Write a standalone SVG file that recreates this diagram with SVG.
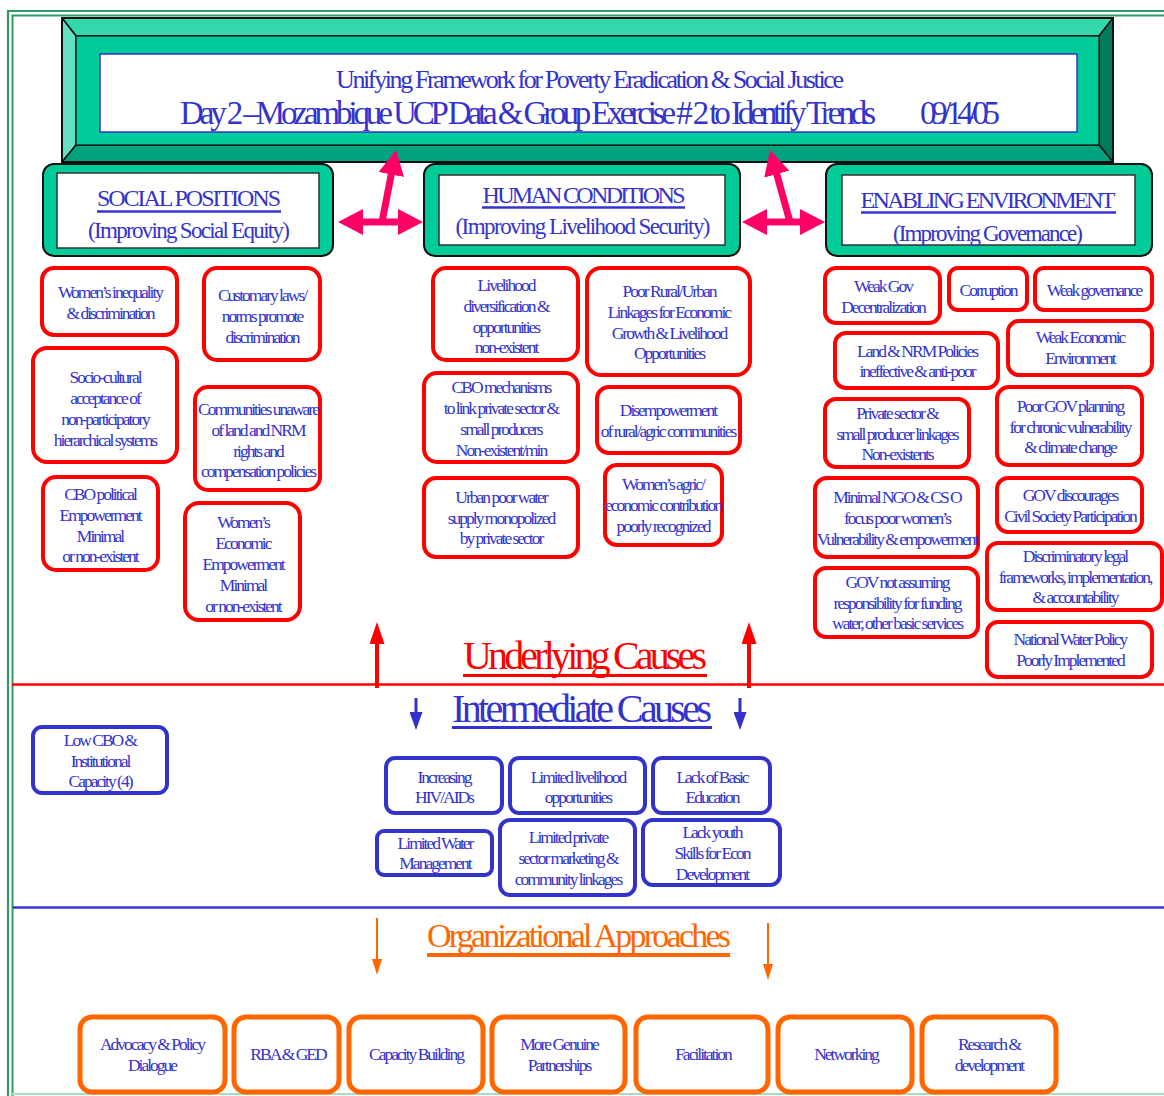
<svg xmlns="http://www.w3.org/2000/svg" width="1164" height="1096" viewBox="0 0 1164 1096">
  <defs>
    <style>
      .serif { font-family: "Liberation Serif", "Times New Roman", serif; }
      .t { font-family: "Liberation Serif", "Times New Roman", serif; font-size: 17.5px; letter-spacing: -2px; fill: #3333cc; text-anchor: middle; }
      .cause { fill: #ffffff; stroke: #ff0000; stroke-width: 4; }
      .mid { fill: #ffffff; stroke: #3333cc; stroke-width: 4; }
      .appr { fill: #ffffff; stroke: #ff6600; stroke-width: 5; }
      .cat { fill: #00cc99; stroke: #111111; stroke-width: 2; }
      .catin { fill: #ffffff; stroke: #333333; stroke-width: 1.5; }
      .head { font-family: "Liberation Serif", "Times New Roman", serif; fill: #3333cc; text-anchor: middle; }
      .pink { stroke: #ff0066; stroke-width: 7; fill: none; }
      .bevel { stroke: #111111; stroke-width: 1.5; stroke-linejoin: round; }
    </style>
    <marker id="pinkHead" markerUnits="userSpaceOnUse" markerWidth="25" markerHeight="26" refX="5" refY="13" orient="auto-start-reverse" viewBox="0 0 25 26">
      <path d="M0,0 L25,13 L0,26 z" fill="#ff0066"/>
    </marker>
    <marker id="redHead" markerUnits="userSpaceOnUse" markerWidth="22" markerHeight="15" refX="4" refY="7.5" orient="auto" viewBox="0 0 22 15">
      <path d="M0,0 L22,7.5 L0,15 z" fill="#ff0000"/>
    </marker>
    <marker id="blueHead" markerUnits="userSpaceOnUse" markerWidth="18" markerHeight="13" refX="4" refY="6.5" orient="auto" viewBox="0 0 18 13">
      <path d="M0,0 L18,6.5 L0,13 z" fill="#3333cc"/>
    </marker>
    <marker id="orangeHead" markerUnits="userSpaceOnUse" markerWidth="16" markerHeight="10" refX="2" refY="5" orient="auto" viewBox="0 0 16 10">
      <path d="M0,0 L16,5 L0,10 z" fill="#ff6600"/>
    </marker>
  </defs>

  <rect x="0" y="0" width="1164" height="1096" fill="#ffffff"/>

  <!-- page frame: double green rule on top and left, light rule at the bottom -->
  <g id="frame" fill="none">
    <path d="M8,1096 V11 H1164" stroke="#339966" stroke-width="2.2"/>
    <path d="M12.5,1096 V15.5 H1164" stroke="#339966" stroke-width="2"/>
    <line x1="12" y1="1094" x2="1164" y2="1094" stroke="#a8dcc0" stroke-width="2"/>
  </g>

  <!-- title banner -->
  <g id="banner">
    <rect x="62" y="18" width="1051" height="144" fill="#00cc99"/>
    <polygon class="bevel" points="62,18 1113,18 1099,36 76,36" fill="#33d9ad"/>
    <polygon class="bevel" points="62,18 76,36 76,145 62,162" fill="#66e0c2"/>
    <polygon class="bevel" points="1113,18 1113,162 1099,145 1099,36" fill="#007a5c"/>
    <polygon class="bevel" points="62,162 76,145 1099,145 1113,162" fill="#00a37d"/>
    <rect x="76" y="36" width="1023" height="109" fill="#00cc99" stroke="#111111" stroke-width="1.2"/>
    <rect x="62" y="18" width="1051" height="144" fill="none" stroke="#111111" stroke-width="2"/>
    <rect x="100" y="54" width="977" height="78" fill="#ffffff" stroke="#3333cc" stroke-width="1.5"/>
    <text class="head" x="590" y="88" font-size="26" textLength="508" lengthAdjust="spacing">Unifying Framework for Poverty Eradication &amp; Social Justice</text>
    <text class="head" x="528" y="124" font-size="33" textLength="696" lengthAdjust="spacing">Day 2 –Mozambique UCP Data &amp; Group Exercise # 2 to Identify Trends</text>
    <text class="head" x="960" y="124" font-size="33" textLength="80" lengthAdjust="spacing">09/14/05</text>
  </g>

  <!-- category headers -->
  <g id="social-positions">
    <rect class="cat" x="43" y="164" width="290" height="92" rx="11"/>
    <rect class="catin" x="57" y="173" width="262" height="75"/>
    <text class="head" x="189" y="206" font-size="24" textLength="184" lengthAdjust="spacing">SOCIAL POSITIONS</text>
    <line x1="97" y1="211.5" x2="281" y2="211.5" stroke="#3333cc" stroke-width="2.5"/>
    <text class="head" x="189" y="238" font-size="23" textLength="202" lengthAdjust="spacing">(Improving Social Equity)</text>
  </g>
  <g id="human-conditions">
    <rect class="cat" x="424" y="164" width="316" height="92" rx="11"/>
    <rect class="catin" x="439" y="175" width="286" height="70"/>
    <text class="head" x="584" y="203" font-size="24" textLength="203" lengthAdjust="spacing">HUMAN CONDITIONS</text>
    <line x1="482" y1="207.5" x2="685" y2="207.5" stroke="#3333cc" stroke-width="2.5"/>
    <text class="head" x="583" y="234" font-size="23" textLength="255" lengthAdjust="spacing">(Improving  Livelihood Security)</text>
  </g>
  <g id="enabling-environment">
    <rect class="cat" x="826" y="164" width="326" height="92" rx="11"/>
    <rect class="catin" x="842" y="175" width="293" height="70"/>
    <text class="head" x="988" y="208" font-size="24" textLength="255" lengthAdjust="spacing">ENABLING ENVIRONMENT</text>
    <line x1="861" y1="212.5" x2="1116" y2="212.5" stroke="#3333cc" stroke-width="2.5"/>
    <text class="head" x="988" y="241" font-size="23" textLength="190" lengthAdjust="spacing">(Improving Governance)</text>
  </g>

  <!-- underlying causes: social positions -->
  <g id="u1"><rect class="cause" x="42" y="268" width="135" height="67" rx="12"/>
    <text class="t"><tspan x="110" y="298">Women’s inequality</tspan><tspan x="110" y="319">&amp; discrimination</tspan></text></g>
  <g id="u2"><rect class="cause" x="204" y="268" width="116" height="92" rx="13"/>
    <text class="t"><tspan x="262" y="301">Customary laws/</tspan><tspan x="262" y="322">norms promote</tspan><tspan x="262" y="343">discrimination</tspan></text></g>
  <g id="u3"><rect class="cause" x="33" y="348" width="144" height="114" rx="14"/>
    <text class="t"><tspan x="105" y="383">Socio-cultural</tspan><tspan x="105" y="404">acceptance of</tspan><tspan x="105" y="425">non-participatory</tspan><tspan x="105" y="446">hierarchical systems</tspan></text></g>
  <g id="u4"><rect class="cause" x="195" y="387" width="125" height="103" rx="13"/>
    <text class="t"><tspan x="258" y="415">Communities unaware</tspan><tspan x="258" y="436">of land and NRM</tspan><tspan x="258" y="457">rights and</tspan><tspan x="258" y="477">compensation policies</tspan></text></g>
  <g id="u5"><rect class="cause" x="43" y="477" width="115" height="93" rx="13"/>
    <text class="t"><tspan x="100" y="500">CBO political</tspan><tspan x="100" y="521">Empowerment</tspan><tspan x="100" y="542">Minimal</tspan><tspan x="100" y="562">or non-existent</tspan></text></g>
  <g id="u6"><rect class="cause" x="185" y="503" width="115" height="117" rx="14"/>
    <text class="t"><tspan x="243" y="528">Women’s</tspan><tspan x="243" y="549">Economic</tspan><tspan x="243" y="570">Empowerment</tspan><tspan x="243" y="591">Minimal</tspan><tspan x="243" y="612">or non-existent</tspan></text></g>

  <!-- underlying causes: human conditions -->
  <g id="u7"><rect class="cause" x="433" y="268" width="145" height="92" rx="13"/>
    <text class="t"><tspan x="506" y="291">Livelihood</tspan><tspan x="506" y="312">diversification &amp;</tspan><tspan x="506" y="333">opportunities</tspan><tspan x="506" y="353">non-existent</tspan></text></g>
  <g id="u8"><rect class="cause" x="587" y="268" width="163" height="107" rx="14"/>
    <text class="t"><tspan x="669" y="297">Poor Rural/Urban</tspan><tspan x="669" y="318">Linkages for Economic</tspan><tspan x="669" y="339">Growth &amp; Livelihood</tspan><tspan x="669" y="359">Opportunities</tspan></text></g>
  <g id="u9"><rect class="cause" x="424" y="373" width="154" height="89" rx="13"/>
    <text class="t"><tspan x="501" y="393">CBO mechanisms</tspan><tspan x="501" y="414">to link private sector &amp;</tspan><tspan x="501" y="435">small producers</tspan><tspan x="501" y="456">Non-existent/min</tspan></text></g>
  <g id="u10"><rect class="cause" x="597" y="387" width="143" height="66" rx="12"/>
    <text class="t"><tspan x="668" y="416">Disempowerment</tspan><tspan x="668" y="437">of rural/agric communities</tspan></text></g>
  <g id="u11"><rect class="cause" x="424" y="478" width="154" height="79" rx="12"/>
    <text class="t"><tspan x="501" y="503">Urban poor water</tspan><tspan x="501" y="524">supply monopolized</tspan><tspan x="501" y="544">by private sector</tspan></text></g>
  <g id="u12"><rect class="cause" x="605" y="465" width="117" height="80" rx="12"/>
    <text class="t"><tspan x="663" y="490">Women’s agric/</tspan><tspan x="663" y="511">economic contribution</tspan><tspan x="663" y="532">poorly recognized</tspan></text></g>

  <!-- underlying causes: enabling environment -->
  <g id="u13"><rect class="cause" x="825" y="268" width="115" height="55" rx="11"/>
    <text class="t"><tspan x="883" y="292">Weak Gov</tspan><tspan x="883" y="313">Decentralization</tspan></text></g>
  <g id="u14"><rect class="cause" x="949" y="268" width="78" height="42" rx="9"/>
    <text class="t"><tspan x="988" y="296">Corruption</tspan></text></g>
  <g id="u15"><rect class="cause" x="1035" y="268" width="117" height="42" rx="9"/>
    <text class="t"><tspan x="1094" y="296">Weak governance</tspan></text></g>
  <g id="u16"><rect class="cause" x="835" y="333" width="163" height="55" rx="11"/>
    <text class="t"><tspan x="917" y="357">Land &amp; NRM Policies</tspan><tspan x="917" y="377">ineffective &amp; anti-poor</tspan></text></g>
  <g id="u17"><rect class="cause" x="1008" y="321" width="144" height="54" rx="11"/>
    <text class="t"><tspan x="1080" y="343">Weak Economic</tspan><tspan x="1080" y="364">Environment</tspan></text></g>
  <g id="u18"><rect class="cause" x="825" y="399" width="144" height="68" rx="11"/>
    <text class="t"><tspan x="897" y="419">Private sector &amp;</tspan><tspan x="897" y="440">small producer linkages</tspan><tspan x="897" y="460">Non-existents</tspan></text></g>
  <g id="u19"><rect class="cause" x="997" y="387" width="145" height="78" rx="12"/>
    <text class="t"><tspan x="1070" y="412">Poor GOV planning</tspan><tspan x="1070" y="433">for chronic vulnerability</tspan><tspan x="1070" y="453">&amp; climate change</tspan></text></g>
  <g id="u20"><rect class="cause" x="815" y="478" width="163" height="79" rx="12"/>
    <text class="t"><tspan x="897" y="503">Minimal NGO &amp; CS O</tspan><tspan x="897" y="524">focus poor women’s</tspan><tspan x="897" y="545">Vulnerability &amp; empowerment</tspan></text></g>
  <g id="u21"><rect class="cause" x="997" y="478" width="145" height="54" rx="11"/>
    <text class="t"><tspan x="1070" y="501">GOV discourages</tspan><tspan x="1070" y="522">Civil Society Participation</tspan></text></g>
  <g id="u22"><rect class="cause" x="815" y="568" width="163" height="69" rx="11"/>
    <text class="t"><tspan x="897" y="588">GOV not assuming</tspan><tspan x="897" y="609">responsibility for funding</tspan><tspan x="897" y="629">water, other basic services</tspan></text></g>
  <g id="u23"><rect class="cause" x="987" y="543" width="175" height="67" rx="11"/>
    <text class="t"><tspan x="1075" y="562">Discriminatory legal</tspan><tspan x="1075" y="583">frameworks, implementation,</tspan><tspan x="1075" y="603">&amp; accountability</tspan></text></g>
  <g id="u24"><rect class="cause" x="987" y="622" width="165" height="55" rx="11"/>
    <text class="t"><tspan x="1070" y="645">National Water Policy</tspan><tspan x="1070" y="666">Poorly Implemented</tspan></text></g>

  <!-- section labels -->
  <g id="label-underlying">
    <text class="serif" x="585" y="669" font-size="40" fill="#ff0000" text-anchor="middle" textLength="244" lengthAdjust="spacing">Underlying Causes</text>
    <line x1="463" y1="675.5" x2="707" y2="675.5" stroke="#ff0000" stroke-width="3"/>
  </g>
  <g id="label-intermediate">
    <text class="serif" x="582" y="722" font-size="40" fill="#3333cc" text-anchor="middle" textLength="260" lengthAdjust="spacing">Intermediate Causes</text>
    <line x1="452" y1="727.5" x2="712" y2="727.5" stroke="#3333cc" stroke-width="3"/>
  </g>
  <g id="label-approaches">
    <text class="serif" x="579" y="947" font-size="34" fill="#ff6600" text-anchor="middle" textLength="304" lengthAdjust="spacing">Organizational Approaches</text>
    <line x1="427" y1="955" x2="730" y2="955" stroke="#ff6600" stroke-width="4"/>
  </g>

  <!-- intermediate causes -->
  <g id="m1"><rect class="mid" x="33" y="727" width="134" height="66" rx="9"/>
    <text class="t"><tspan x="100" y="746">Low CBO &amp;</tspan><tspan x="100" y="767">Institutional</tspan><tspan x="100" y="787">Capacity (4)</tspan></text></g>
  <g id="m2"><rect class="mid" x="386" y="758" width="116" height="55" rx="9"/>
    <text class="t"><tspan x="444" y="783">Increasing</tspan><tspan x="444" y="803">HIV/AIDs</tspan></text></g>
  <g id="m3"><rect class="mid" x="510" y="758" width="135" height="55" rx="9"/>
    <text class="t"><tspan x="578" y="783">Limited livelihood</tspan><tspan x="578" y="803">opportunities</tspan></text></g>
  <g id="m4"><rect class="mid" x="653" y="758" width="117" height="55" rx="9"/>
    <text class="t"><tspan x="712" y="783">Lack of Basic</tspan><tspan x="712" y="803">Education</tspan></text></g>
  <g id="m5"><rect class="mid" x="377" y="831" width="115" height="44" rx="7"/>
    <text class="t"><tspan x="435" y="849">Limited Water</tspan><tspan x="435" y="869">Management</tspan></text></g>
  <g id="m6"><rect class="mid" x="500" y="820" width="135" height="75" rx="10"/>
    <text class="t"><tspan x="568" y="843">Limited private</tspan><tspan x="568" y="864">sector marketing &amp;</tspan><tspan x="568" y="885">community linkages</tspan></text></g>
  <g id="m7"><rect class="mid" x="643" y="820" width="137" height="65" rx="10"/>
    <text class="t"><tspan x="712" y="838">Lack youth</tspan><tspan x="712" y="859">Skills for Econ</tspan><tspan x="712" y="880">Development</tspan></text></g>

  <!-- organizational approaches -->
  <g id="a1"><rect class="appr" x="80" y="1017" width="145" height="75" rx="12"/>
    <text class="t"><tspan x="152" y="1050">Advocacy &amp; Policy</tspan><tspan x="152" y="1071">Dialogue</tspan></text></g>
  <g id="a2"><rect class="appr" x="234" y="1017" width="105" height="75" rx="12"/>
    <text class="t"><tspan x="288" y="1060">RBA &amp; GED</tspan></text></g>
  <g id="a3"><rect class="appr" x="349" y="1017" width="134" height="75" rx="12"/>
    <text class="t"><tspan x="416" y="1060">Capacity Building</tspan></text></g>
  <g id="a4"><rect class="appr" x="492" y="1017" width="133" height="75" rx="12"/>
    <text class="t"><tspan x="559" y="1050">More Genuine</tspan><tspan x="559" y="1071">Partnerships</tspan></text></g>
  <g id="a5"><rect class="appr" x="636" y="1017" width="132" height="75" rx="12"/>
    <text class="t"><tspan x="703" y="1060">Facilitation</tspan></text></g>
  <g id="a6"><rect class="appr" x="778" y="1017" width="134" height="75" rx="12"/>
    <text class="t"><tspan x="846" y="1060">Networking</tspan></text></g>
  <g id="a7"><rect class="appr" x="922" y="1017" width="134" height="75" rx="12"/>
    <text class="t"><tspan x="989" y="1050">Research  &amp;</tspan><tspan x="989" y="1071">development</tspan></text></g>

  <!-- connectors: divider rules and arrows -->
  <g id="connectors" fill="none">
    <line x1="12" y1="684.5" x2="1164" y2="684.5" stroke="#ff0000" stroke-width="2.5"/>
    <line x1="13" y1="907.5" x2="1164" y2="907.5" stroke="#3333cc" stroke-width="2.5"/>

    <line class="pink" x1="358" y1="222" x2="403" y2="222" marker-start="url(#pinkHead)" marker-end="url(#pinkHead)"/>
    <line class="pink" x1="382" y1="222" x2="392.2" y2="169.6" marker-end="url(#pinkHead)"/>
    <line class="pink" x1="762" y1="222" x2="805" y2="222" marker-start="url(#pinkHead)" marker-end="url(#pinkHead)"/>
    <line class="pink" x1="790" y1="222" x2="775.4" y2="169.3" marker-end="url(#pinkHead)"/>

    <line x1="377" y1="688" x2="377" y2="640" stroke="#ff0000" stroke-width="4" marker-end="url(#redHead)"/>
    <line x1="749" y1="688" x2="749" y2="640" stroke="#ff0000" stroke-width="4" marker-end="url(#redHead)"/>

    <line x1="416" y1="698" x2="416" y2="716" stroke="#3333cc" stroke-width="3" marker-end="url(#blueHead)"/>
    <line x1="740" y1="698" x2="740" y2="716" stroke="#3333cc" stroke-width="3" marker-end="url(#blueHead)"/>

    <line x1="377" y1="918" x2="377" y2="961" stroke="#ff6600" stroke-width="2" marker-end="url(#orangeHead)"/>
    <line x1="768" y1="923" x2="768" y2="966" stroke="#ff6600" stroke-width="2" marker-end="url(#orangeHead)"/>
  </g>
</svg>
